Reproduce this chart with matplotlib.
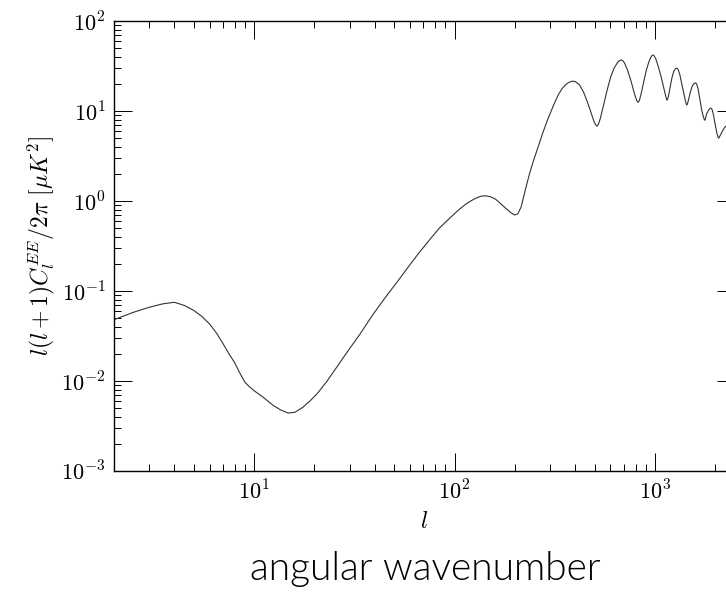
import numpy as np
import matplotlib
matplotlib.use('Agg')
import matplotlib.pyplot as plt
from matplotlib.ticker import FuncFormatter, LogLocator

plt.rcParams['mathtext.fontset'] = 'cm'

# Multipoles and EE band power l(l+1)C_l/2pi in muK^2
ell = [2, 2.5, 3, 3.5, 4, 4.5, 5, 5.5, 6, 6.5, 7, 7.5, 8, 8.5, 9, 9.5, 10,
       11, 12.4, 13.5, 14.8, 16, 17.5, 19, 20.6, 23, 26, 30, 34, 39, 45, 52,
       58, 66, 75, 84, 95, 105, 115, 125, 132, 138, 145, 152, 160, 167, 178,
       190, 199,
       207, 215, 225, 235, 245, 255, 265, 274, 290, 300, 315, 330, 345, 360,
       375, 387,
       400, 420, 440, 459, 480, 497, 507, 514, 522, 535, 555, 577, 600, 625,
       650, 665, 678,
       690, 705, 730, 760, 790, 810, 823, 835, 850, 870, 890, 910, 930, 950,
       965, 977,
       990, 1010, 1040, 1071, 1100, 1125, 1140, 1148, 1158, 1175, 1195, 1216,
       1240, 1265, 1286,
       1305, 1330, 1361, 1395, 1420, 1435, 1442, 1452, 1470, 1495, 1528,
       1560, 1585, 1600,
       1620, 1645, 1675, 1710, 1745, 1765, 1774, 1785, 1810, 1850, 1880,
       1900, 1925, 1960, 2000, 2040, 2065, 2081,
       2100, 2140, 2180, 2229, 2300, 2380, 2450, 2500]
dl_ee = [0.048, 0.058, 0.066, 0.072, 0.075, 0.069, 0.061, 0.052, 0.043,
         0.034, 0.026, 0.020, 0.016, 0.0122, 0.0097, 0.0086, 0.0078,
         0.0067, 0.0054, 0.0048, 0.0044, 0.0045, 0.0051, 0.0060, 0.0072,
         0.0098, 0.0145, 0.023, 0.034, 0.054, 0.084, 0.128,
         0.178, 0.26, 0.37, 0.50, 0.65, 0.80, 0.94, 1.05, 1.11, 1.14, 1.14,
         1.11, 1.05, 0.97, 0.85, 0.75, 0.70,
         0.72, 0.86, 1.30, 1.90, 2.60, 3.40, 4.40, 5.50, 7.80, 9.40, 12.2,
         15.3, 17.9, 19.8, 21.0, 21.5,
         21.3, 19.6, 16.3, 12.8, 9.6, 7.6, 7.0, 6.8, 7.1, 8.4, 11.8, 17.0,
         23.5, 30.0, 34.5, 36.3, 37.0,
         36.4, 34.2, 28.5, 21.5, 15.6, 13.2, 12.5, 13.0, 15.0, 19.0, 24.0,
         29.5, 34.5, 39.0, 41.2, 42.0,
         41.2, 38.0, 31.0, 24.5, 19.0, 15.5, 13.8, 13.2, 13.6, 15.6, 19.3,
         23.5, 27.5, 29.6, 30.0,
         29.0, 25.5, 20.0, 15.3, 12.9, 11.9, 11.7, 12.0, 13.3, 15.6, 18.5,
         20.0, 20.5, 20.5,
         19.6, 17.2, 13.5, 10.3, 8.6, 8.0, 7.9, 8.2, 9.3, 10.2, 10.7,
         10.8, 10.5, 9.0, 7.0, 5.6, 5.1, 5.0,
         5.2, 5.6, 6.1, 6.6, 7.0, 6.6, 5.7, 5.1]

fig = plt.figure(figsize=(7.26, 5.92), dpi=100)
ax = fig.add_axes([0.157, 0.2044, 0.855, 0.760])

ax.loglog(ell, dl_ee, color='#333333', lw=0.8)
ax.set_xlim(2, 2500)
ax.set_ylim(1e-3, 1e2)

ax.xaxis.set_major_locator(LogLocator(base=10))
ax.yaxis.set_major_locator(LogLocator(base=10))
fmt = FuncFormatter(lambda v, pos: r'$10^{%d}$' % int(round(np.log10(v))))
ax.xaxis.set_major_formatter(fmt)
ax.yaxis.set_major_formatter(fmt)

ax.tick_params(which='both', direction='in', top=True, right=True,
               width=0.7, labelsize=16)
ax.tick_params(which='major', length=13, pad=6)
ax.tick_params(which='minor', length=5)
for sp in ax.spines.values():
    sp.set_linewidth(1.0)

ax.set_xlabel(r'$l$', fontsize=17, labelpad=4)
ax.set_ylabel(r'$l(l+1)C_l^{EE}/2\pi\ [\mu K^2]$', fontsize=17, labelpad=3)

fig.text(0.586, 0.021, 'angular wavenumber', ha='center', va='baseline',
         fontsize=28, family=['Lato', 'Liberation Sans'], weight=300,
         color='#000000')

fig.savefig('out.png', dpi=100)
